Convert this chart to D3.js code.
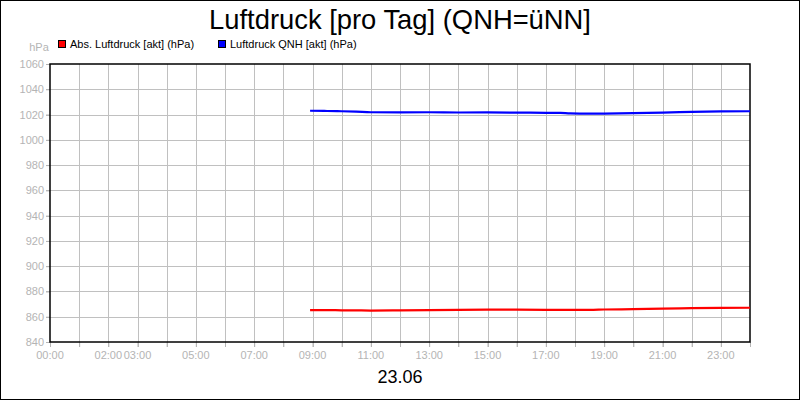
<!DOCTYPE html>
<html><head><meta charset="utf-8">
<script src="https://cdn.jsdelivr.net/npm/d3@7"></script>
<style>
html,body{margin:0;padding:0;background:#fff;}
svg{display:block;font-family:"Liberation Sans",Arial,sans-serif;}
</style></head>
<body>
<svg id="c" width="800" height="400"></svg>
<script>
const title = "Luftdruck [pro Tag] (QNH=üNN]";
const dateLabel = "23.06";
const unitLabel = "hPa";
const seriesNames = ["Abs. Luftdruck [akt] (hPa)", "Luftdruck QNH [akt] (hPa)"];
const seriesColors = ["#ff0000", "#0000ff"];
const yTicks = [840, 860, 880, 900, 920, 940, 960, 980, 1000, 1020, 1040, 1060];
const xTickLabels = ["00:00", "02:00", "03:00", "05:00", "07:00", "09:00", "11:00", "13:00", "15:00", "17:00", "19:00", "21:00", "23:00"];
const times = ["08:55","09:30","10:00","10:30","11:00","12:00","13:00","14:00","15:00","16:00","17:00","17:30","17:50","18:30","19:00","20:00","21:00","22:00","23:00","24:00"];
const absPressure = [865.2,865.2,865.1,865.0,864.9,865.0,865.3,865.5,865.6,865.6,865.5,865.4,865.4,865.4,865.7,866.0,866.4,866.8,867.0,867.1];
const qnhPressure = [1023.0,1022.8,1022.6,1022.3,1021.8,1021.7,1021.8,1021.6,1021.7,1021.5,1021.4,1021.3,1020.9,1020.7,1020.8,1021.1,1021.5,1022.1,1022.5,1022.6];

const toH = s => { const [h, m] = s.split(":").map(Number); return h + m / 60; };
const svg = d3.select("#c");
const W = 800, H = 400;
const L = 50, R = 750, T = 64, B = 342;
const x = d3.scaleLinear().domain([0, 24]).range([L, R]);
const y = d3.scaleLinear().domain([840, 1060]).range([B, T]);
const grey = "#b4b4b4";

svg.append("rect").attr("x", 0.5).attr("y", 0.5).attr("width", W - 1).attr("height", H - 1)
  .attr("fill", "#fff").attr("stroke", "#000");

// grid
const g = svg.append("g");
g.selectAll("line.v").data(d3.range(1, 24)).enter().append("line")
  .attr("x1", d => Math.round(x(d)) + 0.5).attr("x2", d => Math.round(x(d)) + 0.5)
  .attr("y1", T).attr("y2", B + 5).attr("stroke", "#c0c0c0");
g.selectAll("line.h").data(yTicks.slice(1, -1)).enter().append("line")
  .attr("x1", L - 4).attr("x2", R).attr("y1", d => Math.round(y(d)) + 0.5).attr("y2", d => Math.round(y(d)) + 0.5)
  .attr("stroke", "#c0c0c0");

// axes
const yAxis = d3.axisLeft(y).tickValues(yTicks).tickFormat(d3.format("d")).tickSize(4).tickPadding(2);
const ya = svg.append("g").attr("transform", `translate(${L},0)`).call(yAxis);
ya.select(".domain").remove();
ya.selectAll(".tick line").attr("stroke", grey);
ya.selectAll(".tick text").attr("fill", grey).attr("font-size", 11).attr("font-family", "Liberation Sans, Arial, sans-serif");

const xAxis = d3.axisBottom(x).tickValues(d3.range(0, 25)).tickSize(5).tickFormat("");
const xa = svg.append("g").attr("transform", `translate(0,${B})`).call(xAxis);
xa.select(".domain").remove();
xa.selectAll(".tick line").attr("stroke", grey);
svg.append("g").selectAll("text").data(xTickLabels).enter().append("text")
  .attr("x", d => x(toH(d))).attr("y", B + 17).attr("text-anchor", "middle")
  .attr("fill", grey).attr("font-size", 11).text(d => d);

// frame
svg.append("rect").attr("x", L).attr("y", T).attr("width", R - L).attr("height", B - T)
  .attr("fill", "none").attr("stroke", "#000").attr("stroke-width", 1.5);

// lines
const line = d3.line().x(d => x(d[0])).y(d => y(d[1])).curve(d3.curveMonotoneX);
[absPressure, qnhPressure].forEach((vals, i) => {
  const pts = times.map((t, k) => [toH(t), vals[k]]);
  svg.append("path").datum(pts).attr("d", line).attr("fill", "none")
    .attr("stroke", seriesColors[i]).attr("stroke-width", 2.2).attr("stroke-linejoin", "round");
});

// unit
svg.append("text").attr("x", 39).attr("y", 51).attr("text-anchor", "middle")
  .attr("fill", grey).attr("font-size", 11).text(unitLabel);

// legend
const legX = [58, 218];
seriesNames.forEach((n, i) => {
  svg.append("rect").attr("x", legX[i] + 0.5).attr("y", 40.5).attr("width", 7).attr("height", 7)
    .attr("fill", seriesColors[i]).attr("stroke", "#000");
  svg.append("text").attr("x", legX[i] + 12).attr("y", 48).attr("font-size", 11)
    .attr("fill", "#000").text(n);
});

// title
const tt = svg.append("text").attr("x", 400).attr("y", 29).attr("text-anchor", "middle")
  .attr("font-size", 28).attr("fill", "#000").text(title);
const tw = tt.node().getComputedTextLength();
tt.attr("font-size", 28 * 382 / tw);

const dt = svg.append("text").attr("x", 400).attr("y", 383).attr("text-anchor", "middle")
  .attr("font-size", 18).attr("fill", "#000").text(dateLabel);
</script>
</body></html>
